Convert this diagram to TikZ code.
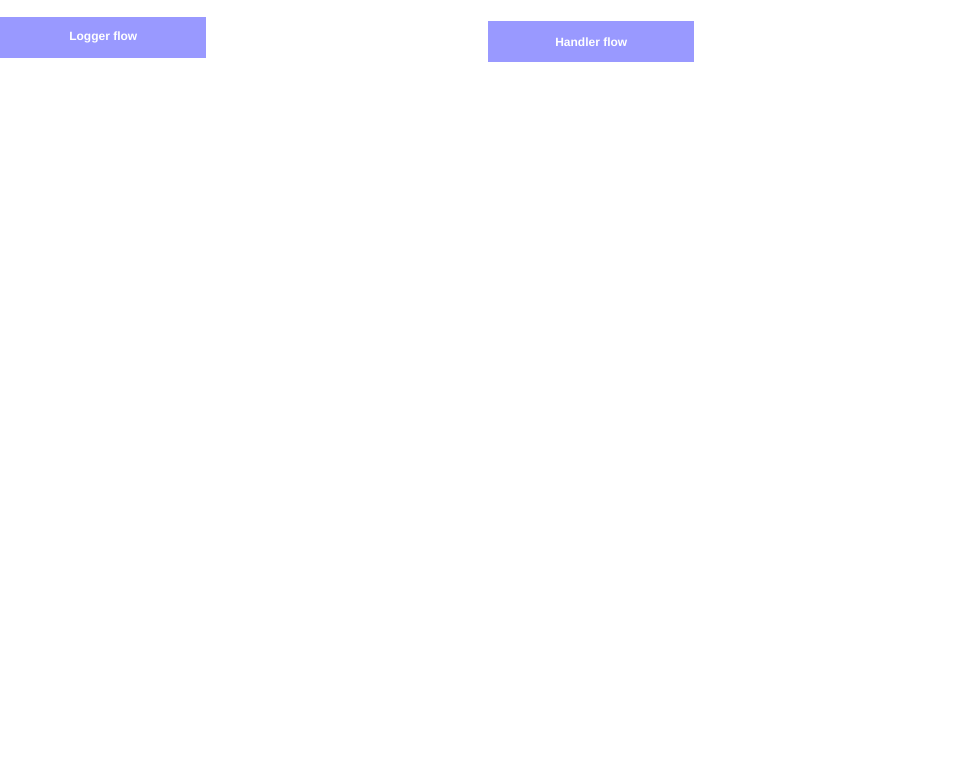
\documentclass[tikz,border=0pt]{standalone}
\usepackage{fontspec}
\setmainfont{Liberation Sans}
\usetikzlibrary{positioning}
\definecolor{flowblue}{HTML}{9999FF}

\begin{document}
\begin{tikzpicture}[
  x=0.75pt, y=-0.75pt,
  flowbox/.style={fill=flowblue, draw=none, anchor=north west,
                  font=\fontsize{9}{11}\selectfont\bfseries, text=white,
                  inner sep=0pt, minimum width=154.5pt, minimum height=30.75pt}
]
\useasboundingbox (0,0) rectangle (955,758);
\node[flowbox] (logger) at (0,17) {Logger flow};
\node[flowbox] (handler) at (488,21) {Handler flow};
\end{tikzpicture}
\end{document}
